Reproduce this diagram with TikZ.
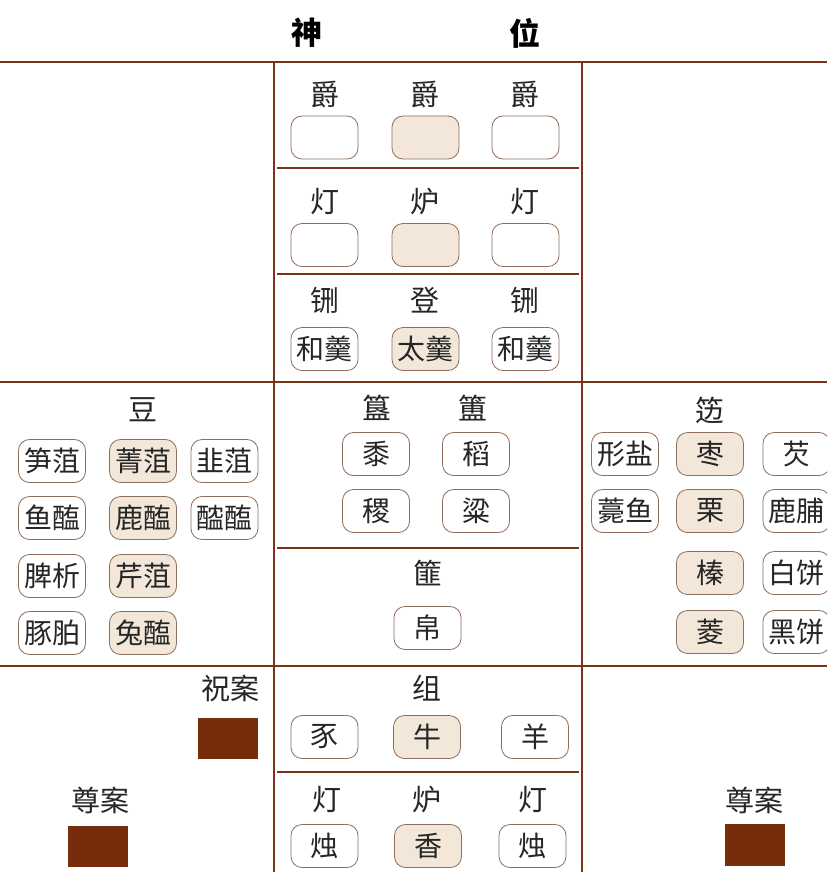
\documentclass[tikz,border=0pt]{standalone}
\usepackage{fontspec}
\newfontfamily\cjk{Noto Sans CJK SC}
\definecolor{gridc}{HTML}{7A3418}
\definecolor{boxline}{HTML}{8E6E5E}
\definecolor{tanfill}{HTML}{F2E7D8}
\definecolor{tablec}{HTML}{772C0C}
\begin{document}
\begin{tikzpicture}[x=1pt,y=-1pt,
  gridline/.style={draw=gridc,line width=2.2pt},
  title/.style={font=\cjk\bfseries\fontsize{31}{31}\selectfont,inner sep=0pt},
  lbl/.style={font=\cjk\fontsize{29}{29}\selectfont,inner sep=0pt,text=black!85},
  box/.style={draw=boxline,line width=0.8pt,rounded corners=11pt,fill=white,
    minimum width=67pt,minimum height=43pt,inner sep=0pt,
    font=\cjk\fontsize{28}{28}\selectfont,text=black!85},
  tbox/.style={box,fill=tanfill},
  table/.style={fill=tablec,draw=none}]
\useasboundingbox (0,0) rectangle (827,872);
\clip (0,0) rectangle (827,872);
\fill[white] (0,0) rectangle (827,872);
% grid
\draw[gridline] (0,62) -- (827,62);
\draw[gridline] (0,382) -- (827,382);
\draw[gridline] (0,666) -- (827,666);
\draw[gridline] (274,62) -- (274,872);
\draw[gridline] (582,62) -- (582,872);
\draw[gridline] (277,168) -- (579,168);
\draw[gridline] (277,274) -- (579,274);
\draw[gridline] (277,548) -- (579,548);
\draw[gridline] (277,772) -- (579,772);
% title
\node[title] (t1) at (307,33) {神};
\node[title] (t2) at (525,33) {位};
% top center
\node[lbl] (j1) at (325,95) {爵};
\node[lbl] (j2) at (425,95) {爵};
\node[lbl] (j3) at (525,95) {爵};
\node[box] (jb1) at (324.5,137.5) {};
\node[tbox] (jb2) at (425.5,137.5) {};
\node[box] (jb3) at (525.5,137.5) {};
\node[lbl] (d1) at (325,202) {灯};
\node[lbl] (d2) at (425,202) {炉};
\node[lbl] (d3) at (525,202) {灯};
\node[box] (db1) at (324.5,245) {};
\node[tbox] (db2) at (425.5,245) {};
\node[box] (db3) at (525.5,245) {};
\node[lbl] (x1) at (325,300) {铏};
\node[lbl] (x2) at (425,300) {登};
\node[lbl] (x3) at (525,300) {铏};
\node[box] (xb1) at (324.5,349) {和羹};
\node[tbox] (xb2) at (425.5,349) {太羹};
\node[box] (xb3) at (525.5,349) {和羹};
% left: dou
\node[lbl] (dou) at (143,410) {豆};
\node[box] (l11) at (52,461) {笋菹};
\node[tbox] (l12) at (143,461) {菁菹};
\node[box] (l13) at (224.5,461) {韭菹};
\node[box] (l21) at (52,518) {鱼醢};
\node[tbox] (l22) at (143,518) {鹿醢};
\node[box] (l23) at (224.5,518) {醓醢};
\node[box] (l31) at (52,576) {脾析};
\node[tbox] (l32) at (143,576) {芹菹};
\node[box] (l41) at (52,633) {豚胉};
\node[tbox] (l42) at (143,633) {兔醢};
% right: bian
\node[lbl] (bian) at (710,410) {笾};
\node[box] (r11) at (625,454) {形盐};
\node[tbox] (r12) at (710,454) {枣};
\node[box] (r13) at (796.5,454) {芡};
\node[box] (r21) at (625,511) {薧鱼};
\node[tbox] (r22) at (710,511) {栗};
\node[box] (r23) at (796.5,511) {鹿脯};
\node[tbox] (r32) at (710,573) {榛};
\node[box] (r33) at (796.5,573) {白饼};
\node[tbox] (r42) at (710,632) {菱};
\node[box] (r43) at (796.5,632) {黑饼};
% center middle
\node[lbl] (gui) at (377,408) {簋};
\node[lbl] (fu) at (473,408) {簠};
\node[box] (c11) at (376,454) {黍};
\node[box] (c12) at (476,454) {稻};
\node[box] (c21) at (376,511) {稷};
\node[box] (c22) at (476,511) {粱};
\node[lbl] (fei) at (428,573) {篚};
\node[box] (bo) at (427.5,628) {帛};
% bottom
\node[lbl,anchor=east] (zhu) at (260,688) {祝案};
\node[table] (zhut) at (228,738.5) [minimum width=60pt,minimum height=41pt] {};
\node[lbl] (zu) at (427,688) {组};
\node[box] (z1) at (324.5,737) {豕};
\node[tbox] (z2) at (427,737) {牛};
\node[box] (z3) at (535,737) {羊};
\node[lbl] (e1) at (327,800) {灯};
\node[lbl] (e2) at (427,800) {炉};
\node[lbl] (e3) at (533,800) {灯};
\node[box] (eb1) at (324.5,846) {烛};
\node[tbox] (eb2) at (428,846) {香};
\node[box] (eb3) at (532.5,846) {烛};
\node[lbl] (zun1) at (100,800) {尊案};
\node[table] (zt1) at (98,846.5) [minimum width=60.5pt,minimum height=41pt] {};
\node[lbl] (zun2) at (754,800) {尊案};
\node[table] (zt2) at (755,845) [minimum width=60pt,minimum height=42pt] {};
\end{tikzpicture}
\end{document}
